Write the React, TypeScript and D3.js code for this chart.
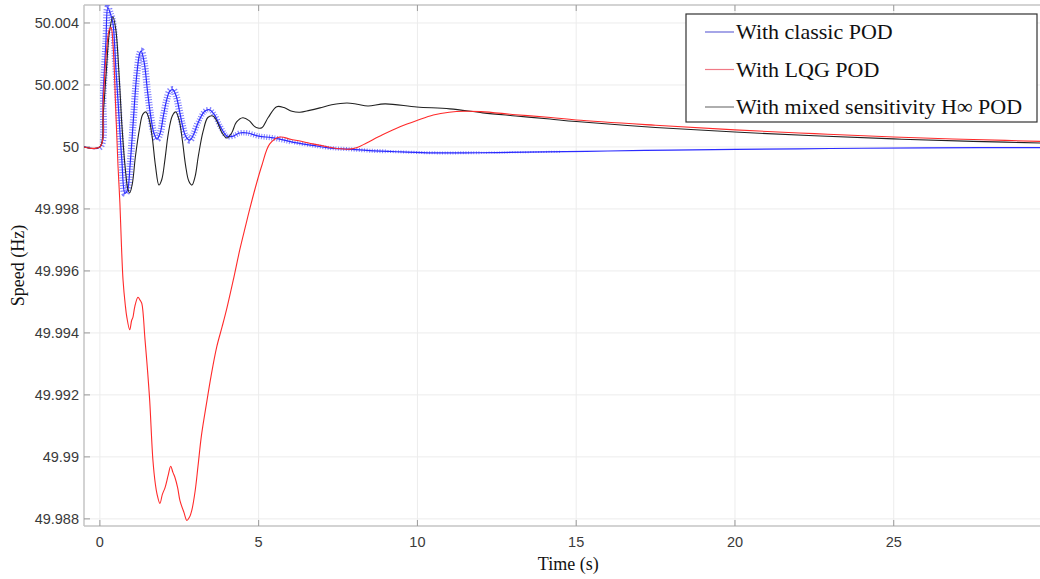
import React from "react";
import * as d3 from "d3";

// Time axis (s) and speed deviation from 50 Hz in mHz
const classicT = [-0.5, 0, 0.1, 0.19, 0.25, 0.33, 0.41, 0.5, 0.57, 0.69, 0.79, 0.87, 0.95, 1.05, 1.15, 1.25, 1.3, 1.4, 1.5, 1.6, 1.7, 1.8, 1.9, 2.0, 2.1, 2.2, 2.3, 2.4, 2.5, 2.6, 2.7, 2.83, 2.95, 3.1, 3.3, 3.45, 3.6, 3.8, 4.0, 4.2, 4.4, 4.65, 5.0, 5.4, 5.8, 6.2, 6.7, 7.2, 7.8, 8.5, 9.5, 10.5, 11.5, 12.5, 14, 16, 18, 20, 23, 26, 30];
const classicDev = [0, 0, 1.7, 3.4, 4.5, 4.3, 4.0, 2.6, 1.5, -0.4, -1.5, -1.4, -0.6, 0.8, 2.2, 3.0, 3.1, 2.7, 1.8, 1.0, 0.45, 0.25, 0.45, 1.0, 1.5, 1.8, 1.85, 1.65, 1.2, 0.7, 0.35, 0.22, 0.4, 0.8, 1.15, 1.2, 1.05, 0.65, 0.35, 0.35, 0.45, 0.45, 0.35, 0.3, 0.22, 0.13, 0.05, -0.03, -0.07, -0.12, -0.16, -0.19, -0.19, -0.18, -0.16, -0.13, -0.1, -0.08, -0.05, -0.03, -0.02];

const lqgT = [-0.5, 0, 0.1, 0.2, 0.3, 0.35, 0.42, 0.5, 0.57, 0.63, 0.68, 0.73, 0.8, 0.85, 0.94, 1.0, 1.04, 1.1, 1.2, 1.27, 1.32, 1.42, 1.5, 1.57, 1.67, 1.75, 1.8, 1.89, 1.97, 2.05, 2.15, 2.23, 2.3, 2.36, 2.45, 2.52, 2.65, 2.74, 2.82, 2.9, 3.0, 3.09, 3.2, 3.37, 3.5, 3.68, 3.85, 4.0, 4.2, 4.41, 4.6, 4.72, 4.9, 5.1, 5.35, 5.67, 6.0, 6.4, 6.7, 7.2, 7.56, 7.87, 8.1, 8.4, 8.9, 9.45, 10.0, 10.5, 11.0, 11.5, 12.0, 13.1, 14.2, 15, 17.5, 20, 22.5, 25, 27.5, 30];
const lqgDev = [0, 0, 1.4, 3.0, 3.8, 3.85, 3.2, 1.2, -0.6, -1.8, -3.2, -4.3, -5.1, -5.5, -5.9, -5.6, -5.5, -5.15, -4.85, -4.95, -5.05, -6.2, -7.2, -8.2, -10.1, -10.9, -11.2, -11.5, -11.2, -11.0, -10.6, -10.3, -10.5, -10.65, -11.0, -11.4, -11.8, -12.05, -11.95, -11.7, -11.1, -10.3, -9.3, -8.2, -7.4, -6.45, -5.8, -5.2, -4.3, -3.3, -2.5, -2.0, -1.3, -0.6, 0.1, 0.32, 0.25, 0.17, 0.1, 0.0, -0.06, -0.07, -0.02, 0.13, 0.39, 0.65, 0.86, 1.03, 1.12, 1.15, 1.14, 1.04, 0.95, 0.87, 0.7, 0.55, 0.43, 0.32, 0.24, 0.17];

const hinfT = [-0.5, 0, 0.1, 0.2, 0.3, 0.41, 0.5, 0.6, 0.7, 0.8, 0.88, 0.94, 1.02, 1.12, 1.25, 1.35, 1.45, 1.55, 1.65, 1.75, 1.86, 1.95, 2.05, 2.15, 2.28, 2.39, 2.5, 2.6, 2.7, 2.8, 2.9, 3.0, 3.1, 3.25, 3.4, 3.56, 3.7, 3.85, 4.0, 4.15, 4.3, 4.5, 4.7, 4.85, 4.98, 5.1, 5.3, 5.57, 5.8, 6.05, 6.3, 6.6, 6.93, 7.3, 7.78, 8.1, 8.44, 8.98, 9.98, 11.02, 12.06, 13.1, 14.17, 15, 17.5, 20, 22.5, 25, 27.5, 30];
const hinfDev = [0, 0, 1.0, 2.4, 3.7, 4.2, 3.8, 2.4, 0.6, -0.7, -1.35, -1.48, -1.2, -0.3, 0.6, 1.05, 1.13, 0.9, 0.3, -0.6, -1.23, -1.05, -0.4, 0.4, 1.0, 1.13, 0.85, 0.2, -0.6, -1.1, -1.23, -0.95, -0.3, 0.5, 0.95, 1.0, 0.8, 0.45, 0.29, 0.45, 0.8, 0.94, 0.85, 0.68, 0.61, 0.62, 0.95, 1.3, 1.27, 1.15, 1.12, 1.18, 1.26, 1.36, 1.42, 1.38, 1.32, 1.39, 1.29, 1.23, 1.1, 1.0, 0.9, 0.82, 0.63, 0.48, 0.36, 0.26, 0.18, 0.12];

const xTicks = [0, 5, 10, 15, 20, 25];
const yTicks = [49.988, 49.99, 49.992, 49.994, 49.996, 49.998, 50, 50.002, 50.004];
const yTickLabels = ["49.988", "49.99", "49.992", "49.994", "49.996", "49.998", "50", "50.002", "50.004"];
const legendLabels = ["With classic POD", "With LQG POD", "With mixed sensitivity H\u221E POD"];
const seriesColors = ["#2b2bff", "#ff2a2a", "#222222"];
const legendLineColors = ["#6a6ad8", "#f07a86", "#777777"];
// classic POD ripple band: start time, end time, band thickness (px)
const rippleStart = [0, 3, 6, 9, 12];
const rippleEnd = [3, 6, 9, 12, 14.5];
const rippleWidth = [7, 5.5, 4, 3, 2];

type Pt = { t: number; v: number };
const toPts = (ts: number[], ds: number[]): Pt[] => ts.map((t, i) => ({ t, v: 50 + ds[i] / 1000 }));

export default function App() {
  const W = 1060, H = 579;
  const left = 84, top = 5, right = 1052.5, bottom = 526;
  const x = d3.scaleLinear().domain([-0.5, 30]).range([left, right]);
  const y = d3.scaleLinear().domain([49.98777, 50.00458]).range([bottom, top]);
  const line = d3.line<Pt>().x(d => x(d.t)).y(d => y(d.v)).curve(d3.curveCatmullRom.alpha(0.5));
  const series = [toPts(classicT, classicDev), toPts(lqgT, lqgDev), toPts(hinfT, hinfDev)];
  const axisFont = "Arial, 'Liberation Sans', Helvetica, sans-serif";
  const serif = "'Times New Roman', 'Liberation Serif', Times, serif";

  return (
    <div style={{ position: "fixed", left: 0, top: 0, width: 1040, height: 579, overflow: "hidden", background: "#fff" }}>
      <svg width={W} height={H} style={{ display: "block" }}>
        <defs>
          <clipPath id="plotClip">
            <rect x={left} y={top} width={right - left} height={bottom - top} />
          </clipPath>
          {rippleStart.map((s, i) => (
            <clipPath id={`rip${i}`} key={i}>
              <rect x={x(s)} y={top} width={x(rippleEnd[i]) - x(s)} height={bottom - top} />
            </clipPath>
          ))}
        </defs>
        <rect x={0} y={0} width={W} height={H} fill="#fff" />
        {/* grid */}
        {xTicks.map(t => (
          <line key={"gx" + t} x1={x(t)} x2={x(t)} y1={top} y2={bottom} stroke="#ececec" strokeWidth={1} />
        ))}
        {yTicks.map(v => (
          <line key={"gy" + v} x1={left} x2={right} y1={y(v)} y2={y(v)} stroke="#ececec" strokeWidth={1} />
        ))}
        {/* frame */}
        <line x1={left} x2={right} y1={top} y2={top} stroke="#c4c4c4" strokeWidth={1.5} />
        <line x1={left} x2={right} y1={bottom} y2={bottom} stroke="#c4c4c4" strokeWidth={1.5} />
        <line x1={left} x2={left} y1={top} y2={bottom} stroke="#c4c4c4" strokeWidth={1.5} />
        {/* ticks */}
        {xTicks.map(t => (
          <g key={"tx" + t}>
            <line x1={x(t)} x2={x(t)} y1={bottom} y2={bottom - 6} stroke="#9a9a9a" />
            <line x1={x(t)} x2={x(t)} y1={top} y2={top + 6} stroke="#9a9a9a" />
            <text x={x(t)} y={bottom + 21} textAnchor="middle" fontFamily={axisFont} fontSize={14.5} fill="#3a3a3a">{t}</text>
          </g>
        ))}
        {yTicks.map((v, i) => (
          <g key={"ty" + v}>
            <line x1={left} x2={left + 6} y1={y(v)} y2={y(v)} stroke="#9a9a9a" />
            <text x={left - 5} y={y(v)} dy="0.35em" textAnchor="end" fontFamily={axisFont} fontSize={14.5} fill="#3a3a3a">{yTickLabels[i]}</text>
          </g>
        ))}
        {/* data */}
        <g clipPath="url(#plotClip)">
          {rippleStart.map((s, i) => (
            <path key={"r" + i} d={line(series[0]) || ""} fill="none" stroke={seriesColors[0]} strokeWidth={rippleWidth[i]} strokeDasharray="1 1.6" opacity={0.6} clipPath={`url(#rip${i})`} />
          ))}
          <path d={line(series[0]) || ""} fill="none" stroke={seriesColors[0]} strokeWidth={1.2} />
          <path d={line(series[2]) || ""} fill="none" stroke={seriesColors[2]} strokeWidth={1.1} />
          <path d={line(series[1]) || ""} fill="none" stroke={seriesColors[1]} strokeWidth={1.1} />
        </g>
        {/* axis labels */}
        <text x={(left + right) / 2} y={570} textAnchor="middle" fontFamily={serif} fontSize={18} fill="#111">Time (s)</text>
        <text transform={`translate(24,${(top + bottom) / 2}) rotate(-90)`} textAnchor="middle" fontFamily={serif} fontSize={18} fill="#111">Speed (Hz)</text>
        {/* legend */}
        <rect x={686} y={14} width={351} height={108} fill="#fff" stroke="#333" strokeWidth={1.2} />
        {legendLabels.map((lab, i) => (
          <g key={lab}>
            <line x1={705} x2={734} y1={32 + i * 37.5} y2={32 + i * 37.5} stroke={legendLineColors[i]} strokeWidth={1.2} />
            <text x={736} y={32 + i * 37.5} dy="0.33em" fontFamily={serif} fontSize={22} fill="#111">{lab}</text>
          </g>
        ))}
      </svg>
    </div>
  );
}
